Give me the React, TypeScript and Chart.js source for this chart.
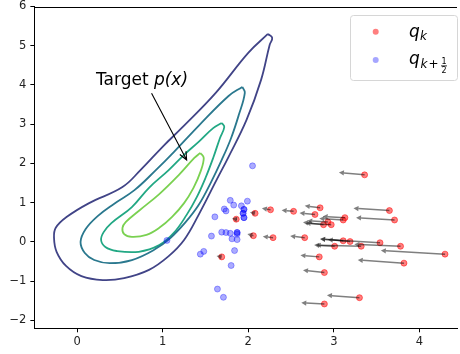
import React, { useEffect, useRef } from "react";
import { Chart, registerables } from "chart.js";
Chart.register(...registerables);

const xTicks = [0, 1, 2, 3, 4];
const yTicks = [-2, -1, 0, 1, 2, 3, 4, 5, 6];

// Contour levels of the target density (outer -> inner)
const c1X = [2.23, 2.28, 2.25, 2.15, 1.98, 1.77, 1.63, 1.42, 1.25, 1.07, 0.84, 0.55, 0.30, 0.05, -0.13, -0.24, -0.27, -0.25, -0.12, 0.14, 0.53, 0.74, 1.01, 1.22, 1.62, 2.00, 2.23];
const c1Y = [5.30, 5.20, 5.02, 4.13, 3.11, 2.17, 1.58, 0.69, 0.05, -0.36, -0.71, -0.92, -0.97, -0.87, -0.61, -0.25, 0.10, 0.36, 0.64, 0.99, 1.40, 1.83, 2.45, 2.90, 3.80, 4.82, 5.30];
const c2X = [1.93, 1.96, 1.89, 1.80, 1.69, 1.56, 1.42, 1.27, 1.09, 0.90, 0.64, 0.38, 0.20, 0.09, 0.04, 0.10, 0.24, 0.43, 0.67, 0.92, 1.13, 1.42, 1.77, 1.93];
const c2Y = [3.95, 3.80, 3.24, 2.65, 2.09, 1.50, 0.94, 0.51, 0.10, -0.20, -0.46, -0.54, -0.46, -0.28, 0.00, 0.33, 0.66, 0.97, 1.32, 1.83, 2.29, 2.96, 3.72, 3.95];
const c3X = [1.69, 1.72, 1.67, 1.59, 1.50, 1.40, 1.28, 1.13, 0.96, 0.72, 0.46, 0.33, 0.28, 0.31, 0.40, 0.64, 0.84, 1.07, 1.25, 1.42, 1.59, 1.69];
const c3Y = [3.03, 2.93, 2.65, 2.14, 1.63, 1.15, 0.69, 0.23, -0.08, -0.25, -0.23, -0.13, 0.05, 0.25, 0.48, 0.89, 1.38, 1.83, 2.22, 2.55, 2.90, 3.03];
const c4X = [1.44, 1.48, 1.44, 1.36, 1.25, 1.11, 0.96, 0.81, 0.64, 0.55, 0.53, 0.57, 0.72, 0.96, 1.19, 1.37, 1.44];
const c4Y = [2.27, 2.14, 1.78, 1.38, 0.99, 0.64, 0.36, 0.18, 0.13, 0.20, 0.36, 0.51, 0.79, 1.22, 1.71, 2.14, 2.27];

// q_k particles (red) and where their arrows point
const qX = [3.36, 2.84, 3.65, 2.53, 2.26, 2.08, 2.78, 3.13, 3.11, 3.71, 1.86, 2.88, 2.97, 2.93, 2.06, 2.29, 2.66, 3.11, 3.19, 3.54, 3.01, 3.32, 3.78, 4.30, 2.83, 3.82, 2.89, 3.30, 2.89, 1.69];
const qY = [1.71, 0.87, 0.80, 0.78, 0.82, 0.73, 0.70, 0.62, 0.56, 0.56, 0.58, 0.44, 0.44, 0.51, 0.16, 0.11, 0.11, 0.03, 0.01, -0.02, -0.11, -0.11, -0.11, -0.31, -0.38, -0.54, -0.78, -1.42, -1.58, -0.38];
const tipX = [3.06, 2.66, 3.23, 2.39, 2.16, 2.02, 2.60, 2.87, 2.83, 3.26, 1.81, 2.64, 2.67, 2.69, 1.99, 2.17, 2.49, 2.84, 2.93, 2.84, 2.77, 2.79, 3.24, 3.55, 2.61, 3.28, 2.64, 2.92, 2.62, 1.63];
const tipY = [1.77, 0.92, 0.86, 0.81, 0.86, 0.76, 0.74, 0.65, 0.60, 0.62, 0.60, 0.50, 0.48, 0.54, 0.20, 0.14, 0.15, 0.08, 0.06, 0.07, -0.08, -0.08, -0.06, -0.22, -0.34, -0.46, -0.72, -1.36, -1.55, -0.36];

// q_{k+1/2} particles (blue)
const hX = [2.05, 1.79, 1.83, 1.92, 1.99, 1.72, 1.74, 1.95, 1.95, 1.94, 1.94, 1.95, 1.95, 1.61, 1.69, 1.74, 1.79, 1.87, 1.87, 1.87, 1.81, 1.87, 1.57, 1.84, 1.48, 1.44, 1.80, 1.64, 1.71, 1.05];
const hY = [1.94, 1.06, 0.94, 0.92, 1.04, 0.84, 0.79, 0.83, 0.83, 0.73, 0.73, 0.62, 0.62, 0.64, 0.25, 0.24, 0.22, 0.24, 0.24, 0.20, 0.08, 0.06, 0.15, -0.22, -0.24, -0.31, -0.60, -1.20, -1.41, 0.04];

// Annotation "Target p(x)"
const annotText = [0.22, 4.0];
const annotFrom = [0.87, 3.79];
const annotTo = [1.28, 2.09];

const contourColors = ["#414487", "#2a788e", "#22a884", "#7ad151"];
const FONT = '"DejaVu Sans", sans-serif';

const pts = (xs: number[], ys: number[]) => xs.map((x, i) => ({ x, y: ys[i] }));

function arrowHead(x0: number, y0: number, x1: number, y1: number, len: number, hw: number) {
  const a = Math.atan2(y1 - y0, x1 - x0);
  const bx = x1 - len * Math.cos(a), by = y1 - len * Math.sin(a);
  return { bx, by, p1: [bx + hw * Math.sin(a), by - hw * Math.cos(a)], p2: [bx - hw * Math.sin(a), by + hw * Math.cos(a)] };
}

const overlay = {
  id: "overlay",
  afterDatasetsDraw(chart: any) {
    const ctx: CanvasRenderingContext2D = chart.ctx;
    const xs = chart.scales.x, ys = chart.scales.y;
    const ca = chart.chartArea;
    ctx.save();
    for (let i = 0; i < qX.length; i++) {
      const x0 = xs.getPixelForValue(qX[i]), y0 = ys.getPixelForValue(qY[i]);
      const x1 = xs.getPixelForValue(tipX[i]), y1 = ys.getPixelForValue(tipY[i]);
      const h = arrowHead(x0, y0, x1, y1, 5, 2.6);
      ctx.strokeStyle = "rgba(0,0,0,0.5)";
      ctx.fillStyle = "rgba(0,0,0,0.5)";
      ctx.lineWidth = 1.5;
      ctx.beginPath();
      ctx.moveTo(x0, y0);
      ctx.lineTo(h.bx, h.by);
      ctx.stroke();
      ctx.beginPath();
      ctx.moveTo(x1, y1);
      ctx.lineTo(h.p1[0], h.p1[1]);
      ctx.lineTo(h.p2[0], h.p2[1]);
      ctx.closePath();
      ctx.fill();
    }
    const ax0 = xs.getPixelForValue(annotFrom[0]), ay0 = ys.getPixelForValue(annotFrom[1]);
    const ax1 = xs.getPixelForValue(annotTo[0]), ay1 = ys.getPixelForValue(annotTo[1]);
    ctx.strokeStyle = "#000";
    ctx.lineWidth = 1.1;
    ctx.beginPath();
    ctx.moveTo(ax0, ay0);
    ctx.lineTo(ax1, ay1);
    const hh = arrowHead(ax0, ay0, ax1, ay1, 8, 3.5);
    ctx.moveTo(hh.p1[0], hh.p1[1]);
    ctx.lineTo(ax1, ay1);
    ctx.lineTo(hh.p2[0], hh.p2[1]);
    ctx.stroke();
    const tx = xs.getPixelForValue(annotText[0]), ty = ys.getPixelForValue(annotText[1]);
    ctx.fillStyle = "#000";
    ctx.textBaseline = "alphabetic";
    ctx.textAlign = "left";
    ctx.font = `17px ${FONT}`;
    ctx.fillText("Target ", tx, ty);
    const w = ctx.measureText("Target ").width;
    ctx.font = `italic 17px ${FONT}`;
    ctx.fillText("p(x)", tx + w, ty);

    ctx.strokeStyle = "#000";
    ctx.lineWidth = 1;
    ctx.beginPath();
    ctx.moveTo(ca.left, Math.round(ca.top) + 0.5);
    ctx.lineTo(ca.right, Math.round(ca.top) + 0.5);
    ctx.stroke();

    const lx = 350.5, ly = 15.5, lw = 107, lh = 65;
    ctx.beginPath();
    ctx.roundRect(lx, ly, lw, lh, 3);
    ctx.fillStyle = "rgba(255,255,255,0.8)";
    ctx.fill();
    ctx.strokeStyle = "#d6d6d6";
    ctx.lineWidth = 1;
    ctx.stroke();
    ctx.beginPath();
    ctx.arc(375.7, 31.7, 3, 0, Math.PI * 2);
    ctx.fillStyle = "rgba(255,0,0,0.5)";
    ctx.fill();
    ctx.beginPath();
    ctx.arc(375.7, 60, 3, 0, Math.PI * 2);
    ctx.fillStyle = "rgba(0,0,255,0.35)";
    ctx.fill();
    ctx.fillStyle = "#000";
    ctx.font = `italic 17px ${FONT}`;
    ctx.fillText("q", 409, 36.5);
    ctx.font = `italic 12px ${FONT}`;
    ctx.fillText("k", 420, 40);
    ctx.font = `italic 17px ${FONT}`;
    ctx.fillText("q", 409, 63.5);
    ctx.font = `italic 12px ${FONT}`;
    ctx.fillText("k", 420.5, 67.5);
    ctx.font = `12px ${FONT}`;
    ctx.fillText("+", 428.5, 67.5);
    ctx.font = `8px ${FONT}`;
    ctx.textAlign = "center";
    ctx.fillText("1", 444, 64);
    ctx.fillText("2", 444, 73);
    ctx.fillRect(441, 65.5, 6, 0.8);
    ctx.restore();
  },
};

export default function App() {
  const ref = useRef<HTMLCanvasElement>(null);
  useEffect(() => {
    document.body.style.margin = "0";
    const contourSets = [
      [c1X, c1Y],
      [c2X, c2Y],
      [c3X, c3Y],
      [c4X, c4Y],
    ].map(([xs, ys], i) => ({
      data: pts(xs, ys),
      showLine: true,
      pointRadius: 0,
      borderColor: contourColors[i],
      borderWidth: 1.8,
      tension: 0.4,
      fill: false,
      order: 5,
    }));
    const chart = new Chart(ref.current!, {
      type: "scatter",
      data: {
        datasets: [
          ...contourSets,
          {
            data: pts(hX, hY),
            pointRadius: 3,
            pointBorderWidth: 1,
            backgroundColor: "rgba(0,0,255,0.33)",
            borderColor: "rgba(0,0,255,0.33)",
            order: 2,
          },
          {
            data: pts(qX, qY),
            pointRadius: 3,
            pointBorderWidth: 1,
            backgroundColor: "rgba(255,0,0,0.5)",
            borderColor: "rgba(255,0,0,0.5)",
            order: 1,
          },
        ] as any,
      },
      options: {
        animation: false,
        responsive: false,
        events: [],
        layout: { padding: { top: 6.5, right: 1, left: 0, bottom: 0 } },
        plugins: { legend: { display: false }, tooltip: { enabled: false } },
        scales: {
          x: {
            type: "linear",
            min: -0.5,
            max: 4.44,
            afterBuildTicks: (s: any) => {
              s.ticks = xTicks.map((v) => ({ value: v }));
            },
            afterFit: (s: any) => {
              s.height = 25.7;
              s.paddingLeft = 0;
              s.paddingRight = 0;
            },
            grid: { drawOnChartArea: false, drawTicks: true, tickLength: 4, color: "#000" },
            border: { display: true, color: "#000", width: 1 },
            ticks: {
              padding: 3,
              color: "#222",
              font: { family: FONT, size: 11.5 },
              callback: (v: any) => String(v).replace("-", "\u2212"),
            },
          },
          y: {
            type: "linear",
            min: -2.2,
            max: 6,
            afterBuildTicks: (s: any) => {
              s.ticks = yTicks.map((v) => ({ value: v }));
            },
            afterFit: (s: any) => {
              s.width = 34.35;
              s.paddingTop = 0;
              s.paddingBottom = 0;
            },
            grid: { drawOnChartArea: false, drawTicks: true, tickLength: 4, color: "#000" },
            border: { display: true, color: "#000", width: 1 },
            ticks: {
              padding: 4,
              color: "#222",
              font: { family: FONT, size: 11.5 },
              callback: (v: any) => String(v).replace("-", "\u2212"),
            },
          },
        },
      } as any,
      plugins: [overlay],
    });
    return () => chart.destroy();
  }, []);
  return (
    <div style={{ position: "fixed", left: 0, top: 0, width: 460, height: 354, overflow: "hidden", background: "#fff" }}>
      <canvas ref={ref} width={462} height={354} style={{ display: "block" }} />
    </div>
  );
}
